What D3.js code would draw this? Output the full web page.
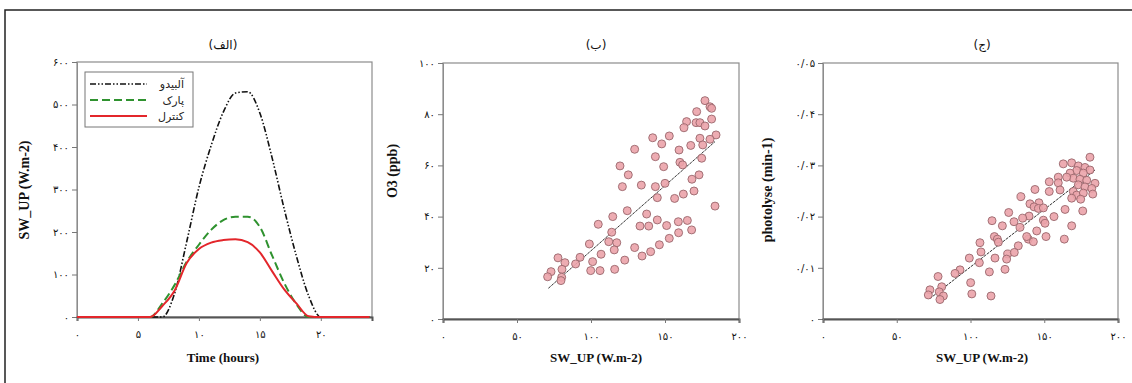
<!DOCTYPE html>
<html>
<head>
<meta charset="utf-8">
<script src="https://cdn.jsdelivr.net/npm/d3@7/dist/d3.min.js"></script>
<style>
  body { margin: 0; background: #fff; }
  .tick text { font-family: "DejaVu Sans", sans-serif; font-size: 10px; fill: #111; }
  .title { font-family: "Liberation Serif", serif; font-weight: bold; fill: #111; }
</style>
</head>
<body>
<svg id="chart" width="1132" height="383"></svg>
<script>
// panel (a): hourly SW_UP for the three runs
const hours = d3.range(0, 25);
const albedo  = [0,0,0,0,0,0,0,0,55,177,305,403,482,527,530,480,375,254,143,50,0,0,0,0,0];
const park    = [0,0,0,0,0,0,0,32,75,130,170,205,228,236,236,212,145,80,30,0,0,0,0,0,0];
const control = [0,0,0,0,0,0,0,26,62,127,160,175,181,183,176,152,108,65,32,2,0,0,0,0,0];
const seriesNames = ["آلبیدو", "پارک", "کنترل"];

// panel (b): SW_UP vs O3
const o3Points = [[177,85.3],[180.4,82.9],[181.5,82.3],[171.4,81],[164.6,77.1],[162.8,74.7],[171,76.7],[173.6,76.7],
  [177,75.4],[181.5,78.1],[184.5,71.9],[180.4,70.2],[173.6,70.6],[175.5,68],[167.4,67.8],[159.5,66],[141.7,70.8],
  [152.9,71.5],[147.8,68.4],[129.5,66.3],[143.5,63.4],[174.8,62.8],[160.1,61.2],[161.9,60.2],[149.1,59.5],
  [119.6,59.8],[125.2,56.3],[173,56.3],[168.2,54.6],[121.2,51.7],[134,52.3],[143.5,51.7],[150,53],[144.8,47.4],
  [156.5,47.1],[162.4,48.8],[169.6,50],[183.8,44.1],[124.5,42.3],[137.6,41],[114.7,40],[104.9,37],
  [133.1,36.3],[139,36.3],[144.8,38.7],[151.1,36.5],[159,38],[165.1,38.5],[114,33.9],[168,34.8],[159.2,33.7],
  [152.9,31.5],[146.2,29],[98.9,29.3],[112,30.2],[117.4,29.8],[106.8,25.3],[115.7,27],[129.5,27.9],[134.5,24.6],
  [140.3,26.3],[92.6,24.1],[101.1,22.4],[122.8,23],[77.7,23.9],[82.4,22],[89.6,21.5],[80.4,19.4],[99.8,18.9],
  [106.1,18.9],[116,19.4],[73,18.5],[70.7,16.5],[80.2,16.3],[79.7,15]];
const o3Fit = [[71.2, 12], [183.8, 69.3]];

// panel (c): SW_UP vs photolysis rate
const photoPoints = [[181,0.0316],[162.9,0.0303],[168.6,0.0305],[173.1,0.0299],[177.6,0.0296],[181,0.0291],
  [172,0.029],[176.5,0.0285],[167.5,0.0285],[169.7,0.0275],[165.2,0.0277],[159.5,0.0277],[153.4,0.0268],
  [159.5,0.0266],[174.2,0.0273],[178.8,0.0271],[184.4,0.0265],[173.1,0.0262],[177.6,0.0258],[182.2,0.0255],
  [143.7,0.0253],[153.4,0.0249],[160.7,0.0252],[169.7,0.0249],[172,0.0242],[176.5,0.0246],[182.9,0.0244],
  [168.6,0.0236],[174.7,0.0234],[134.2,0.0239],[146.4,0.0227],[140.3,0.0225],[143.1,0.0219],[146,0.0216],
  [149.4,0.0217],[176.1,0.0211],[164.1,0.0214],[156.6,0.02],[139.7,0.0201],[125.9,0.0208],[135.4,0.0197],
  [129.5,0.019],[149.4,0.0193],[150.5,0.0187],[114.6,0.0192],[121.6,0.0182],[168.6,0.0182],[144.9,0.0172],
  [133.6,0.0179],[151.2,0.0161],[139.2,0.0156],[142.6,0.0151],[163.6,0.0156],[138.1,0.0161],[116.2,0.0161],
  [118.2,0.0156],[118.9,0.015],[106.4,0.0149],[132.4,0.0143],[125.2,0.0127],[129.7,0.013],[107.1,0.0131],
  [116.6,0.0119],[99.2,0.0119],[106,0.011],[124.5,0.0117],[123.4,0.0097],[112.8,0.0092],[92.9,0.0096],
  [89.5,0.0089],[100.1,0.0071],[78,0.0083],[80.5,0.0063],[72.5,0.0057],[71.4,0.0047],[78.8,0.0053],
  [81.6,0.0045],[79.3,0.0038],[100.9,0.0049],[113.9,0.0045]];
const photoFit = [[72.5, 0.004], [184.4, 0.0291]];

const panelTitles = ["(الف)", "(ب)", "(ج)"];
const timeTicks = [0, 5, 10, 15, 20];
const swTicks = [0, 50, 100, 150, 200];

// persian digits, "/" as decimal sign like the original figure
const fa = s => String(s).replace(/[0-9]/g, d => "۰۱۲۳۴۵۶۷۸۹"[d]).replace(".", "/");

const svg = d3.select("#chart");

// outer frame of the figure
svg.append("rect").attr("x", 5).attr("y", 10).attr("width", 1140).attr("height", 400)
  .attr("fill", "none").attr("stroke", "#222").attr("stroke-width", 1.5);

function makePanel(left, right, top, bottom, xDom, yDom, xTicks, yTicks, yFmt) {
  let x = d3.scaleLinear().domain(xDom).range([left, right]);
  let y = d3.scaleLinear().domain(yDom).range([bottom, top]);
  let g = svg.append("g");

  g.append("rect").attr("x", left).attr("y", top)
    .attr("width", right - left).attr("height", bottom - top)
    .attr("fill", "none").attr("stroke", "#8c8c8c").attr("stroke-width", 1.2);

  let ya = g.append("g").attr("transform", `translate(${left},0)`)
    .call(d3.axisLeft(y).tickValues(yTicks).tickSize(5).tickPadding(3).tickFormat(yFmt));
  ya.select(".domain").attr("stroke", "#8c8c8c");
  ya.selectAll(".tick line").attr("stroke", "#777");

  let xa = g.append("g").attr("transform", `translate(0,${bottom})`)
    .call(d3.axisBottom(x).tickValues(xTicks).tickSize(4).tickPadding(10).tickFormat(fa));
  xa.select(".domain").attr("stroke", "#555").attr("stroke-width", 2);
  xa.selectAll(".tick line").attr("stroke", "#777");

  return { g, x, y };
}

function titles(p, cx, title, xTitle, yTitle, yx, yc) {
  p.g.append("text").attr("x", cx).attr("y", 49).attr("text-anchor", "middle")
    .style("font-family", "DejaVu Sans").style("font-size", "12px").attr("fill", "#111").text(title);
  p.g.append("text").attr("class", "title").attr("x", cx).attr("y", 362)
    .attr("text-anchor", "middle").style("font-size", "13px").text(xTitle);
  p.g.append("text").attr("class", "title")
    .attr("transform", `translate(${yx},${yc}) rotate(-90)`)
    .attr("text-anchor", "middle").style("font-size", "14px").text(yTitle);
}

// ---- panel (a)
let p1 = makePanel(77, 372, 62, 317, [0, 24.2], [0, 600], timeTicks, d3.range(0, 601, 100), fa);
titles(p1, 223, panelTitles[0], "Time (hours)", "SW_UP (W.m-2)", 29, 190);

let series = [
  { name: seriesNames[0], values: albedo, color: "#111", width: 1.6, dash: "6,2,1.5,2,1.5,2" },
  { name: seriesNames[1], values: park, color: "#2f922f", width: 2, dash: "8,4" },
  { name: seriesNames[2], values: control, color: "#e3262b", width: 2, dash: null }
];

let line = d3.line().x((d, i) => p1.x(hours[i])).y(d => p1.y(d)).curve(d3.curveMonotoneX);

p1.g.selectAll(".series").data(series).enter()
  .append("path")
    .attr("d", d => line(d.values))
    .attr("fill", "none")
    .attr("stroke", d => d.color)
    .attr("stroke-width", d => d.width)
    .attr("stroke-dasharray", d => d.dash);

// legend
let lg = p1.g.append("g");
lg.append("rect").attr("x", 85).attr("y", 72).attr("width", 108).attr("height", 55)
  .attr("fill", "#fff").attr("stroke", "#777").attr("stroke-width", 1);
series.forEach((s, i) => {
  let ly = 84 + i * 16;
  lg.append("line").attr("x1", 90).attr("x2", 147).attr("y1", ly).attr("y2", ly)
    .attr("stroke", s.color).attr("stroke-width", s.width).attr("stroke-dasharray", s.dash);
  lg.append("text").attr("x", 184).attr("y", ly + 4).attr("text-anchor", "end")
    .style("font-family", "DejaVu Sans").style("font-size", "11px").attr("fill", "#222").text(s.name);
});

// ---- scatter panels
function scatter(p, pts, fit) {
  p.g.append("line")
    .attr("x1", p.x(fit[0][0])).attr("y1", p.y(fit[0][1]))
    .attr("x2", p.x(fit[1][0])).attr("y2", p.y(fit[1][1]))
    .attr("stroke", "#333").attr("stroke-width", 1).attr("stroke-dasharray", "3,1");
  p.g.selectAll(".pt").data(pts).enter()
    .append("circle")
      .attr("cx", d => p.x(d[0]))
      .attr("cy", d => p.y(d[1]))
      .attr("r", 4)
      .attr("fill", "#eba3aa")
      .attr("fill-opacity", 0.9)
      .attr("stroke", "#9a666c")
      .attr("stroke-width", 0.9);
}

let p2 = makePanel(443, 739, 63, 319, [0, 200], [0, 100], swTicks, d3.range(0, 101, 20), fa);
titles(p2, 596, panelTitles[1], "SW_UP (W.m-2)", "O3 (ppb)", 397, 171);
scatter(p2, o3Points, o3Fit);

let p3 = makePanel(823, 1118, 63, 319, [0, 200], [0, 0.05], swTicks, [0, 0.01, 0.02, 0.03, 0.04, 0.05],
  d => d === 0 ? fa(0) : fa(d.toFixed(2)));
titles(p3, 982, panelTitles[2], "SW_UP (W.m-2)", "photolyse (min-1)", 772, 190);
scatter(p3, photoPoints, photoFit);
</script>
</body>
</html>
